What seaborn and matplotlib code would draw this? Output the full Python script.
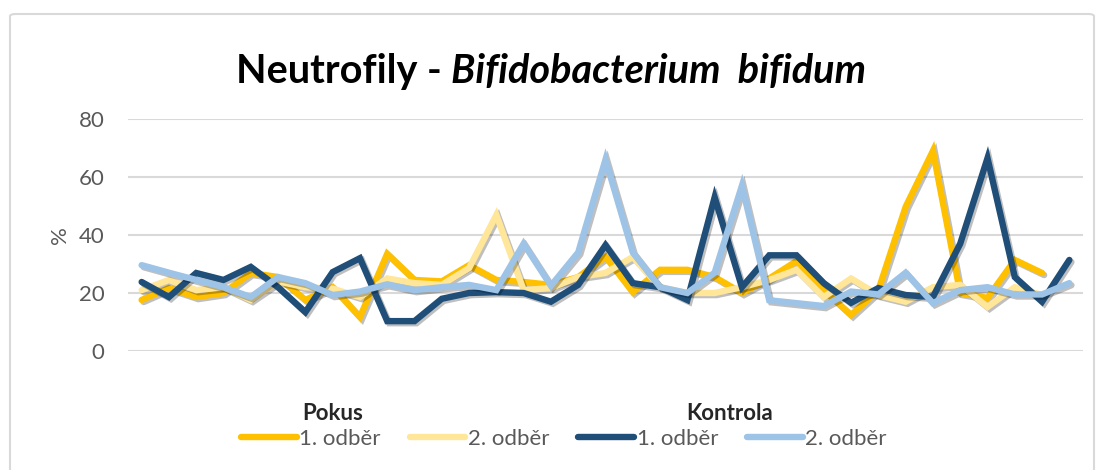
import numpy as np
import pandas as pd
import matplotlib.pyplot as plt
import matplotlib.patheffects as pe
from matplotlib.patches import FancyBboxPatch
import seaborn as sns

# values (35 samples; Pokus has 34)
pokus_1 = [17.6, 21.7, 18.6, 20, 26.9, 25.5, 17.6, 22, 11.7, 33.5,
           24.5, 24, 29.6, 24.5, 23.8, 22.8, 25.5, 32.5, 20.3, 28,
           28, 25.5, 20, 25, 31, 21, 12.4, 21, 49.7, 69,
           20, 18.3, 31.4, 26.9, np.nan]
pokus_2 = [21, 24.5, 21, 22, 17.6, 24, 22, 21.5, 18.6, 25,
           23.4, 22.8, 28.6, 46.9, 21, 21.7, 25.5, 26.9, 32.4, 22,
           20, 20, 22, 24.5, 28, 18.6, 25, 19.3, 17, 22,
           22.8, 15.2, 22, 19.3, np.nan]
kontrola_1 = [23.8, 18.6, 26.9, 24.5, 29, 22, 13.4, 27.2, 32, 10.3,
              10.3, 18, 20, 20.3, 20, 17, 22.8, 36.5, 23.4, 22,
              17.6, 53, 22, 33, 33, 23.4, 16.6, 21.7, 19.3, 18.6,
              37, 66.5, 25.5, 17, 31.4]
kontrola_2 = [29.6, 27, 24.5, 22, 18.6, 25.5, 23.4, 19.3, 20.5, 23,
              21, 22, 22.8, 21, 37, 22.5, 34, 66, 34, 22,
              20, 27, 57, 17.5, 16.5, 15.5, 20.5, 19.5, 27, 16.5,
              21, 22, 19.5, 19.5, 23.4]

series_names = ["Pokus 1", "Pokus 2", "Kontrola 1", "Kontrola 2"]
labels = ["1. odběr", "2. odběr", "1. odběr", "2. odběr"]
colors = ["#FFC000", "#FFE699", "#1F4E79", "#9DC3E6"]

rows = []
for name, vals in zip(series_names, [pokus_1, pokus_2, kontrola_1, kontrola_2]):
    for i, v in enumerate(vals):
        rows.append({"sample": i, "value": v, "series": name})
df = pd.DataFrame(rows)

sns.set_style("white")
plt.rcParams["font.family"] = ["Lato", "DejaVu Sans"]

fig = plt.figure(figsize=(11.02, 4.70), dpi=100)
ax = fig.add_axes([128 / 1102, 119 / 470, 955 / 1102, 232 / 470])

sns.lineplot(data=df, x="sample", y="value", hue="series",
             hue_order=series_names, palette=colors, linewidth=4.6,
             sort=False, ax=ax, legend=False)
for line in ax.lines:
    line.set_solid_joinstyle("miter")
    line.set_path_effects([pe.SimpleLineShadow(offset=(1.5, -1.5), alpha=0.25),
                           pe.Normal()])

ax.set_xlim(-0.5, len(kontrola_1) - 0.5)
ax.set_ylim(0, 80)
ax.set_yticks([0, 20, 40, 60, 80])
ax.set_xticks([])
ax.set_xlabel("")
ax.set_ylabel("%", color="#595959", fontsize=16, labelpad=6)
ax.tick_params(axis="y", length=0, labelsize=16, labelcolor="#595959", pad=17)
ax.grid(axis="y", color="#D9D9D9", linewidth=1.5)
ax.set_axisbelow(True)
for s in ax.spines.values():
    s.set_visible(False)

# title: bold + bold italic part
t1 = fig.text(0, 1 - 72 / 470, "Neutrofily - ", fontsize=28.5,
              fontweight="bold", va="center", color="black")
t2 = fig.text(0, 1 - 72 / 470, "Bifidobacterium  bifidum", fontsize=28.5,
              fontweight="bold", style="italic", va="center", color="black")
r = fig.canvas.get_renderer()
w1 = t1.get_window_extent(r).width
w2 = t2.get_window_extent(r).width
x0 = (551 - (w1 + w2) / 2)
t1.set_x(x0 / 1102)
t2.set_x((x0 + w1) / 1102)

# legend
handles = [plt.Line2D([], [], color=c, linewidth=4.6, solid_capstyle="round")
           for c in colors]
leg = fig.legend(handles, labels, ncol=4, loc="center",
                 bbox_to_anchor=(564 / 1102, 1 - 439 / 470), frameon=False,
                 fontsize=16, handlelength=2.5, handletextpad=0.12,
                 columnspacing=1.3)
for txt in leg.get_texts():
    txt.set_color("#595959")
fig.text(333 / 1102, 1 - 414 / 470, "Pokus", fontsize=16, fontweight="bold",
         ha="center", va="center")
fig.text(730 / 1102, 1 - 414 / 470, "Kontrola", fontsize=16, fontweight="bold",
         ha="center", va="center")

# chart border
fig.patches.append(FancyBboxPatch((10 / 1102, -0.1), 1084 / 1102, 1.1 - 14 / 470,
                                  boxstyle="round,pad=0,rounding_size=0.005",
                                  transform=fig.transFigure, fill=False,
                                  edgecolor="#D9D9D9", linewidth=1.5))

fig.savefig("out.png", dpi=100)
